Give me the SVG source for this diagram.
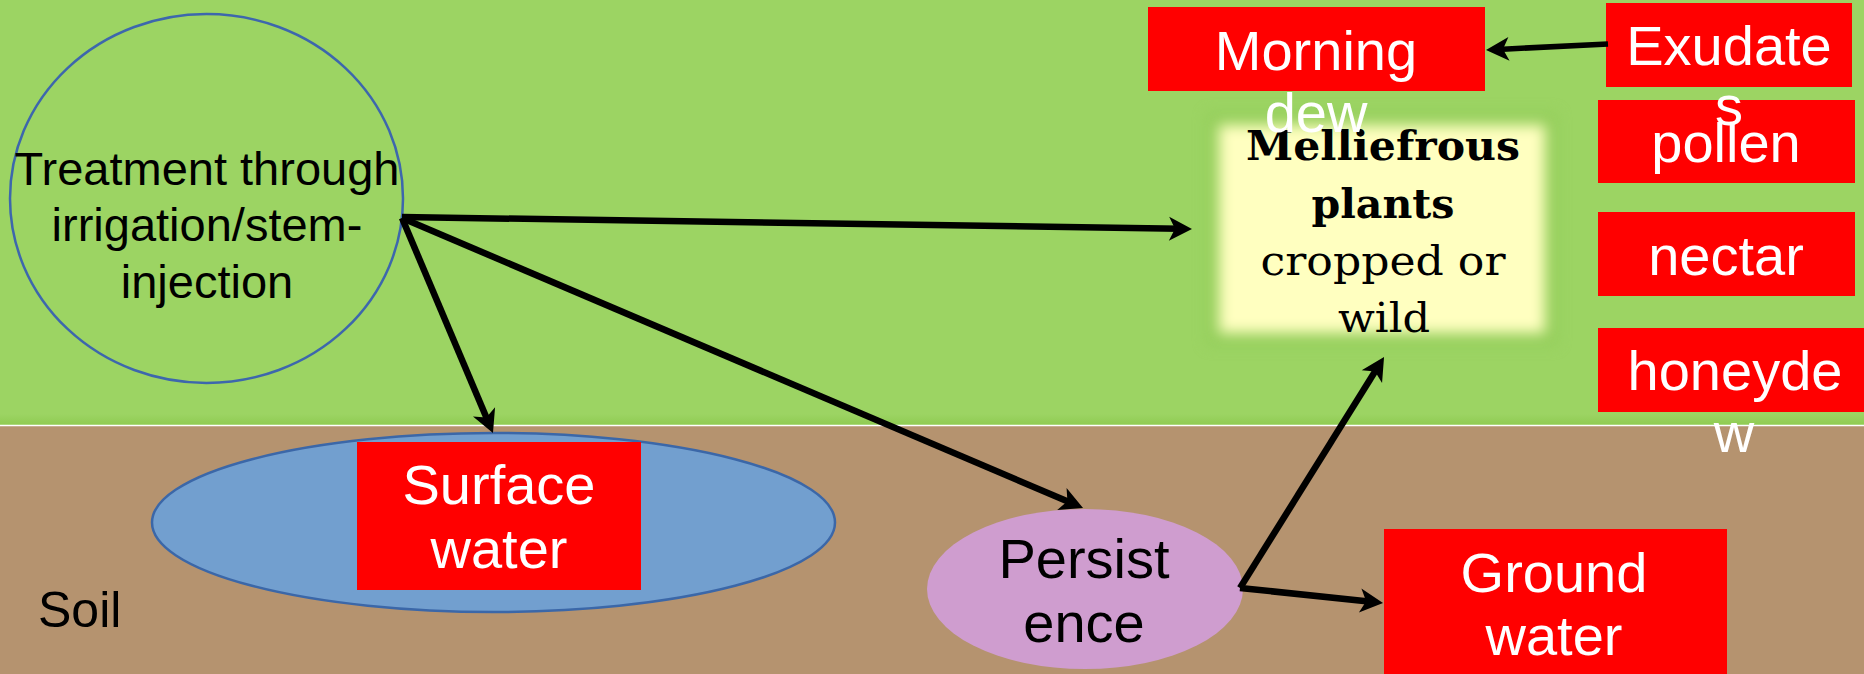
<svg xmlns="http://www.w3.org/2000/svg" width="1864" height="674" viewBox="0 0 1864 674">
<style>
.lbl{font-family:"Liberation Sans",Arial,sans-serif;font-size:56px;fill:#ffffff;text-anchor:middle}
.blk{font-family:"Liberation Sans",Arial,sans-serif;fill:#000000;text-anchor:middle}
.box{fill:#ff0000}
.slab{font-family:"DejaVu Serif",serif;fill:#000000;text-anchor:middle;font-size:41px}
.con{stroke:#000000;stroke-width:6.5;fill:none;marker-end:url(#ah)}
</style>
<defs>
<marker id="ah" markerUnits="userSpaceOnUse" markerWidth="32" markerHeight="32" viewBox="-16 -16 32 32" refX="0" refY="0" orient="auto" overflow="visible">
<path d="M12,0 L-11,-12 L-5,0 L-11,12 Z" fill="#000000"/>
</marker>
<filter id="glow" x="-20%" y="-20%" width="140%" height="140%">
<feGaussianBlur stdDeviation="7"/>
</filter>
<linearGradient id="shade" x1="0" y1="0" x2="0" y2="1">
<stop offset="0" stop-color="#8fcb52" stop-opacity="0"/>
<stop offset="1" stop-color="#8fcb52" stop-opacity="1"/>
</linearGradient>
</defs>
<g id="background">
<rect x="0" y="0" width="1864" height="426" fill="#9cd463"/>
<rect x="0" y="414" width="1864" height="11" fill="url(#shade)"/>
<rect x="0" y="426" width="1864" height="248" fill="#b5936f"/>
<line x1="0" y1="425.5" x2="1864" y2="425.5" stroke="#ffffff" stroke-width="1.5"/>
</g>
<g id="soil">
<text class="blk" x="38" y="627" style="text-anchor:start;font-size:50px">Soil</text>
</g>
<g id="treatment">
<ellipse cx="206.5" cy="198.5" rx="196.5" ry="184.5" fill="none" stroke="#3d67ad" stroke-width="2.5"/>
<text class="blk" style="font-size:47px" x="207" y="185">Treatment through</text>
<text class="blk" style="font-size:47px" x="207" y="241">irrigation/stem-</text>
<text class="blk" style="font-size:47px" x="207" y="298">injection</text>
</g>
<g id="surface-water">
<ellipse cx="493.5" cy="522.5" rx="341.5" ry="89.5" fill="#729fcf" stroke="#3b67a8" stroke-width="2.5"/>
<rect class="box" x="357" y="442" width="284" height="148"/>
<text class="lbl" x="499" y="504">Surface</text>
<text class="lbl" x="499" y="568">water</text>
</g>
<g id="persistence">
<ellipse cx="1085" cy="589" rx="158" ry="80" fill="#cf9dcf"/>
<text class="blk" style="font-size:56px" x="1084" y="578">Persist</text>
<text class="blk" style="font-size:56px" x="1084" y="642">ence</text>
</g>
<g id="ground-water">
<rect class="box" x="1384" y="529" width="343" height="150"/>
<text class="lbl" x="1554" y="592">Ground</text>
<text class="lbl" x="1554" y="655">water</text>
</g>
<g id="melliferous-plants">
<rect x="1206" y="112" width="352" height="234" fill="#8ec955" opacity="0.5" filter="url(#glow)"/>
<rect x="1219" y="125" width="326" height="208" fill="#ffffc0" filter="url(#glow)"/>
<text class="slab" x="1383" y="160" font-weight="bold" textLength="274" lengthAdjust="spacingAndGlyphs">Melliefrous</text>
<text class="slab" x="1383" y="218" font-weight="bold" textLength="143" lengthAdjust="spacingAndGlyphs">plants</text>
<text class="slab" x="1383" y="275" textLength="245" lengthAdjust="spacingAndGlyphs">cropped or</text>
<text class="slab" x="1384" y="332" textLength="92" lengthAdjust="spacingAndGlyphs">wild</text>
</g>
<g id="morning-dew">
<rect class="box" x="1148" y="7" width="337" height="84"/>
<text class="lbl" x="1316" y="70">Morning</text>
<text class="lbl" x="1316" y="132">dew</text>
</g>
<g id="pollen">
<rect class="box" x="1598" y="100" width="257" height="83"/>
<text class="lbl" x="1726" y="162">pollen</text>
</g>
<g id="exudates">
<rect class="box" x="1606" y="3" width="246" height="84"/>
<text class="lbl" x="1729" y="65">Exudate</text>
<text class="lbl" x="1729" y="125">s</text>
</g>
<g id="nectar">
<rect class="box" x="1598" y="212" width="257" height="84"/>
<text class="lbl" x="1726" y="275">nectar</text>
</g>
<g id="honeydew">
<rect class="box" x="1598" y="328" width="274" height="84"/>
<text class="lbl" x="1735" y="390">honeyde</text>
<text class="lbl" x="1734" y="452">w</text>
</g>
<g id="connectors">
<line class="con" x1="402" y1="217" x2="1180" y2="228.8"/>
<line class="con" x1="402" y1="218" x2="488.3" y2="422"/>
<line class="con" x1="402" y1="218" x2="1072" y2="503.3"/>
<line class="con" x1="1240" y1="588" x2="1377.7" y2="367.2"/>
<line class="con" x1="1240" y1="588" x2="1371.1" y2="601.7"/>
<line class="con" style="stroke-width:5.5" x1="1608" y1="44" x2="1498" y2="49.4"/>
</g>
</svg>
